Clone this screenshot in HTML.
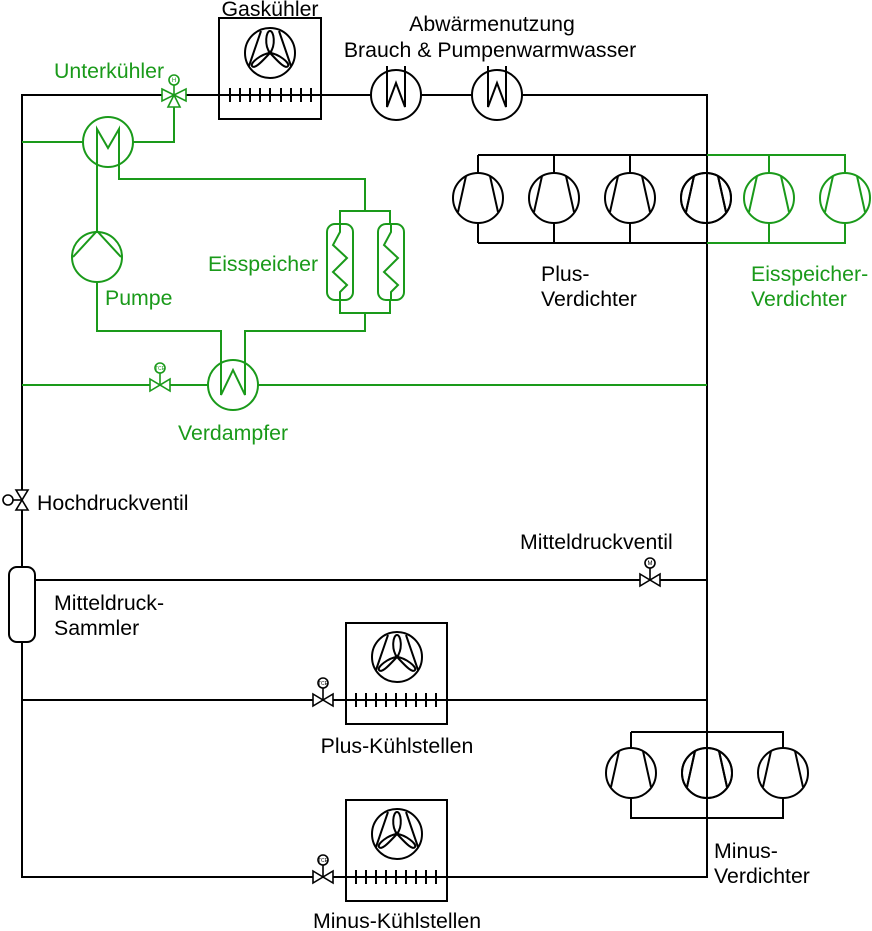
<!DOCTYPE html>
<html><head><meta charset="utf-8"><style>
html,body{margin:0;padding:0;background:#fff;}
svg{display:block;}
.l{font-family:"Liberation Sans",sans-serif;font-size:21.3px;}
</style></head><body>
<svg width="872" height="931" viewBox="0 0 872 931" xmlns="http://www.w3.org/2000/svg">
<defs>
<g id="comp" fill="none" stroke-width="2">
  <circle cx="0" cy="0" r="25"/>
  <path d="M-20,14 L-12,-22 M12,-22 L20,14"/>
</g>
<g id="fan" fill="none" stroke="#000" stroke-width="2">
  <circle cx="0" cy="0" r="25"/>
  <path d="M-21,13 L-9,-22 M9,-22 L21,13"/>
  <path d="M0,0 C-6,-8 -4,-22 0,-22 C4,-22 6,-8 0,0 Z"/>
  <path d="M0,0 C-9,1 -20,10 -18,13 C-15,17 -6,6 0,0 Z"/>
  <path d="M0,0 C9,1 20,10 18,13 C15,17 6,6 0,0 Z"/>
</g>
<g id="valve" stroke-width="1.6" fill="#fff">
  <path d="M-10,-6 L10,6 L10,-6 L-10,6 Z"/>
  <line x1="0" y1="0" x2="0" y2="-12"/>
  <circle cx="0" cy="-17" r="5"/>
</g>
</defs>

<g stroke="#000" stroke-width="2" fill="none">
  <path d="M22,95 H707 V877 H22 Z"/>
  <line x1="22" y1="580" x2="707" y2="580"/>
  <line x1="22" y1="700" x2="707" y2="700"/>
  <path d="M478,155 H707 M478,243 H707"/>
  <path d="M478,155 V173 M554,155 V173 M630,155 V173 M478,223 V243 M554,223 V243 M630,223 V243"/>
  <path d="M631,732 H783 V748 M631,732 V748 M631,798 V818 H783 V798"/>
  <rect x="219" y="18" width="102" height="101" fill="#fff"/>
  <line x1="219" y1="95" x2="321" y2="95"/>
  <path d="M230,88V102M240,88V102M250,88V102M260,88V102M270,88V102M281,88V102M291,88V102M301,88V102M311,88V102"/>
  <circle cx="396" cy="95" r="25" fill="#fff"/>
  <path d="M387,66 V107 L396,83 L405,107 V66"/>
  <circle cx="497" cy="95" r="25" fill="#fff"/>
  <path d="M488,66 V107 L497,83 L506,107 V66"/>
  <rect x="346" y="623" width="101" height="101" fill="none"/>
  <path d="M356,693V707M366,693V707M376,693V707M386,693V707M396,693V707M406,693V707M416,693V707M426,693V707M436,693V707"/>
  <rect x="346" y="800" width="101" height="101" fill="none"/>
  <path d="M356,870V884M366,870V884M376,870V884M386,870V884M396,870V884M406,870V884M416,870V884M426,870V884M436,870V884"/>
  <rect x="9" y="567" width="26" height="75" rx="8" fill="#fff"/>
  <line x1="35" y1="580" x2="60" y2="580"/>
</g>
<use href="#fan" x="270" y="53"/>
<use href="#fan" x="397" y="657"/>
<use href="#fan" x="397" y="834"/>
<g stroke="#000" fill="#fff"><use href="#comp" x="478" y="198"/><use href="#comp" x="554" y="198"/><use href="#comp" x="630" y="198"/><use href="#comp" x="706" y="198"/>
<use href="#comp" x="631" y="773"/><use href="#comp" x="707" y="773"/><use href="#comp" x="783" y="773"/></g>
<line x1="707" y1="95" x2="707" y2="877" stroke="#000" stroke-width="2"/>
<g stroke="#000" fill="none"><use href="#comp" x="706" y="198"/><use href="#comp" x="707" y="773"/></g>
<g stroke="#000"><use href="#valve" x="650" y="580"/><use href="#valve" x="323" y="700"/><use href="#valve" x="323" y="877"/></g>
<text x="650" y="565" text-anchor="middle" style="font-family:'Liberation Sans';font-size:6px">M</text>
<text x="323" y="685" text-anchor="middle" style="font-family:'Liberation Sans';font-size:5px">TCE</text>
<text x="323" y="862" text-anchor="middle" style="font-family:'Liberation Sans';font-size:5px">TCE</text>
<g stroke="#000" stroke-width="1.6" fill="#fff">
  <path d="M16,490 L28,510 L16,510 L28,490 Z"/>
  <line x1="22" y1="500" x2="12" y2="500"/>
  <circle cx="8" cy="500" r="5"/>
</g>

<g stroke="#1a9a1a" stroke-width="2" fill="none">
  <line x1="22" y1="142" x2="83" y2="142"/>
  <path d="M133,142 H174 V104"/>
  <circle cx="108" cy="142" r="25" fill="#fff"/>
  <path d="M97,178 V129 L108,148 L119,129 V179 H365 V211"/>
  <path d="M97,178 V232"/>
  <circle cx="97" cy="257" r="25" fill="#fff"/>
  <path d="M73,257 L97,231 L121,257"/>
  <path d="M97,282 V331 H221 V395 L233,370 L245,395 V331 H365 V313"/>
  <circle cx="233" cy="385" r="25"/>
  <path d="M340,313 H390 V211 H340 Z"/>
  <rect x="327" y="224" width="26" height="76" rx="8" fill="#fff"/>
  <rect x="378" y="224" width="26" height="76" rx="8" fill="#fff"/>
  <path d="M340,224 V232 L333,245 L347,258 L333,272 L347,285 L340,292 V300"/>
  <path d="M391,224 V232 L384,245 L398,258 L384,272 L398,285 L391,292 V300"/>
  <path d="M340,211 V224 M390,211 V224 M340,300 V313 M390,300 V313"/>
  <line x1="22" y1="385" x2="208" y2="385"/>
  <line x1="258" y1="385" x2="707" y2="385"/>
  <path d="M707,155 H845 V173 M769,155 V173 M707,243 H845 V223 M769,243 V223"/>
</g>
<g stroke="#1a9a1a" fill="#fff"><use href="#comp" x="769" y="198"/><use href="#comp" x="845" y="198"/></g>
<g stroke="#1a9a1a"><use href="#valve" x="160" y="385"/></g>
<text x="160" y="370" text-anchor="middle" fill="#1a9a1a" style="font-family:'Liberation Sans';font-size:5px">TCE</text>
<g stroke="#1a9a1a" stroke-width="1.6" fill="#fff">
  <path d="M162,89 L186,101 L186,89 L162,101 Z"/>
  <path d="M174,95 L168,107 L180,107 Z"/>
  <line x1="174" y1="95" x2="174" y2="85"/>
  <circle cx="174" cy="80" r="5"/>
</g>
<text x="174" y="82" text-anchor="middle" fill="#1a9a1a" style="font-family:'Liberation Sans';font-size:6px">H</text>

<g fill="#000">
<text class="l" x="270" y="16" text-anchor="middle">Gaskühler</text>
<text class="l" x="492" y="31" text-anchor="middle">Abwärmenutzung</text>
<text class="l" x="490" y="57" text-anchor="middle">Brauch &amp; Pumpenwarmwasser</text>
<text class="l" x="541" y="281">Plus-</text>
<text class="l" x="541" y="306">Verdichter</text>
<text class="l" x="37" y="510">Hochdruckventil</text>
<text class="l" x="520" y="549">Mitteldruckventil</text>
<text class="l" x="54" y="610">Mitteldruck-</text>
<text class="l" x="54" y="635">Sammler</text>
<text class="l" x="397" y="753" text-anchor="middle">Plus-Kühlstellen</text>
<text class="l" x="714" y="858">Minus-</text>
<text class="l" x="714" y="883">Verdichter</text>
<text class="l" x="397" y="928" text-anchor="middle">Minus-Kühlstellen</text>
</g>
<g fill="#1a9a1a">
<text class="l" x="54" y="78">Unterkühler</text>
<text class="l" x="208" y="271">Eisspeicher</text>
<text class="l" x="105" y="305">Pumpe</text>
<text class="l" x="233" y="440" text-anchor="middle">Verdampfer</text>
<text class="l" x="751" y="281">Eisspeicher-</text>
<text class="l" x="751" y="306">Verdichter</text>
</g>
</svg>
</body></html>
